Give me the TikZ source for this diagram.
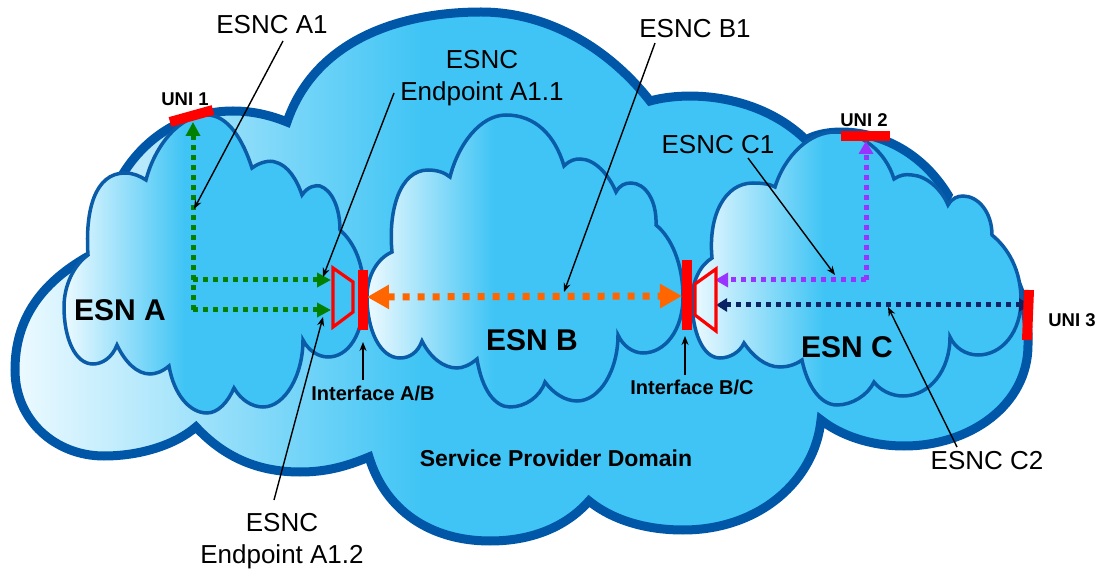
\documentclass[tikz,border=0pt]{standalone}
\usepackage{fontspec}
\setmainfont{Liberation Sans}
\usepackage{xcolor}
\usepackage{tikz}
\usetikzlibrary{arrows.meta}
\definecolor{domainEdge}{HTML}{0057A8}
\definecolor{esnEdge}{HTML}{0A5CA8}
\definecolor{uniRed}{HTML}{FF0000}
\definecolor{esncGreen}{HTML}{008000}
\definecolor{esncOrange}{HTML}{FF6600}
\definecolor{esncPurple}{HTML}{9933FF}
\definecolor{esncNavy}{HTML}{0A2463}
\pgfdeclarehorizontalshading{cloudFade}{100bp}{rgb(0bp)=(.93,.98,1); rgb(25bp)=(.93,.98,1);
  rgb(45bp)=(.25,.77,.96); rgb(100bp)=(.25,.77,.96)}
\tikzset{%
  >={Stealth[length=9pt,width=7pt]},
  % Specifications for style of clouds and bars:
      domainCloud/.style = {draw=domainEdge, line width=9pt, line join=miter,
                            shading=cloudFade},
         esnCloud/.style = {draw=esnEdge, line width=3.5pt, shading=cloudFade},
           uniBar/.style = {draw=uniRed, line width=10pt},
        endpointT/.style = {draw=uniRed, line width=3.2pt},
  % Specifications for style of connections:
         esncLine/.style = {line width=5pt, dash pattern=on 5pt off 5pt},
        greenLine/.style = {esncLine, draw=esncGreen,
                            -{Triangle[length=14pt,width=14pt]}},
       purpleLine/.style = {esncLine, draw=esncPurple,
                            -{Triangle[length=13pt,width=14pt]}},
         navyLine/.style = {esncLine, draw=esncNavy,
                            {Triangle[length=11pt,width=13pt]}-{Triangle[length=11pt,width=13pt]}},
       orangeLine/.style = {draw=esncOrange, line width=7pt, dash pattern=on 7pt off 8pt,
                            {Triangle[length=22pt,width=23pt]}-{Triangle[length=22pt,width=23pt]}},
       leaderLine/.style = {draw=black, line width=1.4pt, ->},
  % Specifications for style of nodes:
        esncLabel/.style = {align=center, inner sep=0pt,
                            font=\fontsize{26}{32}\selectfont},
         esnLabel/.style = {inner sep=0pt, font=\fontsize{30}{34}\selectfont\bfseries},
         uniLabel/.style = {inner sep=0pt, font=\fontsize{18.5}{22}\selectfont\bfseries},
   interfaceLabel/.style = {inner sep=0pt, font=\fontsize{20}{24}\selectfont\bfseries},
}
\begin{document}
\begin{tikzpicture}[x=1pt, y=-1pt]
  \useasboundingbox (0,0) rectangle (1101,569);

  % Service provider domain and the three networks
  \path[domainCloud] (15,370) .. controls (15,320) and (40,280) .. (100,250)
    .. controls (105,165) and (165,111) .. (233,111) .. controls (252,111) and (270,115) .. (287,122)
    .. controls (315,40) and (400,12) .. (481,12) .. controls (550,12) and (610,50) .. (650,101)
    .. controls (690,90) and (760,95) .. (806,140)
    .. controls (830,125) and (905,125) .. (948,195) -- (940,210)
    .. controls (1010,240) and (1030,300) .. (1028,345) .. controls (1028,405) and (970,446) .. (904,446)
    .. controls (870,446) and (840,435) .. (821,420)
    .. controls (815,480) and (760,530) .. (683,530) .. controls (650,530) and (615,522) .. (589,501)
    .. controls (565,528) and (530,541) .. (490,541) .. controls (430,541) and (385,510) .. (369,457)
    .. controls (345,467) and (325,472) .. (300,472) .. controls (255,472) and (222,455) .. (196,427)
    .. controls (175,445) and (140,456) .. (104,456) .. controls (55,456) and (15,420) .. (15,370) -- cycle;
  \path[esnCloud] (88,255) .. controls (85,210) and (95,173) .. (125,173) .. controls (133,173) and (140,176) .. (146,180)
    .. controls (155,145) and (180,115) .. (207,115) .. controls (228,115) and (243,140) .. (252,168)
    .. controls (260,162) and (270,160) .. (275,162) .. controls (288,165) and (297,180) .. (302,195)
    .. controls (308,186) and (316,185) .. (320,186) .. controls (332,190) and (340,208) .. (340,230)
    .. controls (355,243) and (364,265) .. (364,295) .. controls (364,335) and (348,357) .. (328,357)
    .. controls (318,357) and (308,350) .. (303,340)
    .. controls (303,375) and (285,407) .. (263,407) .. controls (252,407) and (241,400) .. (234,388)
    .. controls (228,402) and (218,413) .. (207,413) .. controls (190,413) and (174,395) .. (169,366)
    .. controls (162,372) and (155,374) .. (150,374) .. controls (137,374) and (125,362) .. (117,345)
    .. controls (112,358) and (102,364) .. (93,364) .. controls (75,364) and (64,338) .. (64,307)
    .. controls (64,285) and (74,265) .. (88,255) -- cycle;
  \path[esnCloud] (392,252) .. controls (388,210) and (400,170) .. (428,170) .. controls (436,170) and (444,172) .. (450,177)
    .. controls (458,145) and (480,115) .. (506,115) .. controls (535,115) and (555,135) .. (564,166)
    .. controls (570,160) and (575,159) .. (580,159) .. controls (595,159) and (609,175) .. (616,192)
    .. controls (620,185) and (625,183) .. (631,183) .. controls (645,183) and (657,200) .. (656,225)
    .. controls (672,238) and (683,265) .. (683,297) .. controls (683,330) and (665,353) .. (643,353)
    .. controls (633,353) and (623,346) .. (618,335)
    .. controls (618,370) and (600,401) .. (577,401) .. controls (565,401) and (553,393) .. (545,382)
    .. controls (540,397) and (525,407) .. (510,407) .. controls (495,407) and (482,390) .. (477,359)
    .. controls (470,365) and (463,368) .. (457,368) .. controls (443,368) and (430,357) .. (422,341)
    .. controls (418,352) and (410,358) .. (400,358) .. controls (380,358) and (367,330) .. (367,297)
    .. controls (367,275) and (378,258) .. (392,252) -- cycle;
  \path[esnCloud] (712,258) .. controls (708,215) and (725,183) .. (753,183) .. controls (762,183) and (770,184) .. (775,187)
    .. controls (785,155) and (810,132) .. (835,132) .. controls (860,132) and (885,150) .. (894,179)
    .. controls (900,175) and (905,174) .. (912,175) .. controls (927,176) and (942,190) .. (948,205)
    .. controls (952,198) and (958,196) .. (963,196) .. controls (978,196) and (992,212) .. (992,235)
    .. controls (1008,248) and (1021,270) .. (1021,300) .. controls (1021,332) and (1002,355) .. (978,355)
    .. controls (966,355) and (955,348) .. (950,337)
    .. controls (950,370) and (930,396) .. (903,396) .. controls (891,396) and (880,390) .. (874,382)
    .. controls (868,395) and (852,405) .. (837,405) .. controls (820,405) and (807,385) .. (802,360)
    .. controls (795,365) and (787,367) .. (780,367) .. controls (765,367) and (752,355) .. (744,343)
    .. controls (740,352) and (730,358) .. (720,358) .. controls (702,358) and (692,330) .. (692,300)
    .. controls (692,282) and (700,265) .. (712,258) -- cycle;

  % Labels
  \node (esncAOne)      [esncLabel] at (272,25)  {ESNC A1};
  \node (endpointOne)   [esncLabel] at (482,78)  {ESNC\\Endpoint A1.1};
  \node (endpointTwo)   [esncLabel] at (282,541) {ESNC\\Endpoint A1.2};
  \node (esncBOne)      [esncLabel] at (695,29)  {ESNC B1};
  \node (esncCOne)      [esncLabel] at (718,145) {ESNC C1};
  \node (esncCTwo)      [esncLabel] at (987,461) {ESNC C2};
  \node (esnA)          [esnLabel]  at (120,310) {ESN A};
  \node (esnB)          [esnLabel]  at (532,340) {ESN B};
  \node (esnC)          [esnLabel]  at (847,347) {ESN C};
  \node (uniOne)        [uniLabel]  at (185,99)  {UNI 1};
  \node (uniTwo)        [uniLabel]  at (864,120) {UNI 2};
  \node (uniThree)      [uniLabel]  at (1072,320) {UNI 3};
  \node (interfaceAB)   [interfaceLabel] at (373,393) {Interface A/B};
  \node (interfaceBC)   [interfaceLabel] at (692,387) {Interface B/C};
  \node (domainName)    [interfaceLabel, font=\fontsize{23}{27}\selectfont\bfseries] at (556,458)
                                                     {Service Provider Domain};

  % Free ends of the connections
  \coordinate (uniOneL)   at (170,122);
  \coordinate (uniOneR)   at (213,110);
  \coordinate (uniTwoL)   at (841,136);
  \coordinate (uniTwoR)   at (890,136);
  \coordinate (uniThreeT) at (1029,290);
  \coordinate (uniThreeB) at (1027,340);
  \coordinate (barAT)     at (363,270);
  \coordinate (barAB)     at (363,330);
  \coordinate (barBT)     at (687,260);
  \coordinate (barBB)     at (687,330);
  \coordinate (greenTop)  at (193,122);
  \coordinate (greenMid)  at (193,280);
  \coordinate (greenLow)  at (193,310);
  \coordinate (greenEndA) at (331,280);
  \coordinate (greenEndB) at (331,310);
  \coordinate (purpleTop) at (866,141);
  \coordinate (purpleLow) at (866,280);
  \coordinate (purpleEnd) at (715,280);
  \coordinate (navyLeft)  at (716,305);
  \coordinate (navyRight) at (1030,305);
  \coordinate (orangeL)   at (367,297);
  \coordinate (orangeR)   at (682,296);
  \coordinate (tipAOne)   at (194,209);
  \coordinate (tipEndOne) at (323,277);
  \coordinate (tipEndTwo) at (323,317);
  \coordinate (tipB)      at (564,292);
  \coordinate (tipCOne)   at (835,275);
  \coordinate (tipCTwo)   at (888,307);
  \coordinate (tipIfAB)   at (363,342);
  \coordinate (tipIfBC)   at (685,336);

  % Connections
  \draw[greenLine]  (greenLow) -- (greenTop);
  \draw[greenLine]  (greenMid) -- (greenEndA);
  \draw[greenLine]  (greenLow) -- (greenEndB);
  \draw[purpleLine] (purpleLow) -- (purpleTop);
  \draw[purpleLine] (purpleLow) -- (purpleEnd);
  \draw[navyLine]   (navyLeft) -- (navyRight);
  \draw[orangeLine] (orangeL) -- (orangeR);

  % Bars and endpoints
  \draw[uniBar] (uniOneL) -- (uniOneR);
  \draw[uniBar] (uniTwoL) -- (uniTwoR);
  \draw[uniBar] (uniThreeT) -- (uniThreeB);
  \draw[uniBar] (barAT) -- (barAB);
  \draw[uniBar] (barBT) -- (barBB);
  \draw[endpointT] (333,268) -- (353,282) -- (353,312) -- (333,327) -- cycle;
  \draw[endpointT] (716,269) -- (695,284) -- (695,315) -- (716,331) -- cycle;

  % Leaders with descriptions
  \draw[leaderLine] (283,41)  -- (tipAOne);
  \draw[leaderLine] (394,93)  -- (tipEndOne);
  \draw[leaderLine] (274,500) -- (tipEndTwo);
  \draw[leaderLine] (655,43)  -- (tipB);
  \draw[leaderLine] (748,158) -- (tipCOne);
  \draw[leaderLine] (957,447) -- (tipCTwo);
  \draw[leaderLine] (363,380) -- (tipIfAB);
  \draw[leaderLine] (685,375) -- (tipIfBC);
\end{tikzpicture}
\end{document}
